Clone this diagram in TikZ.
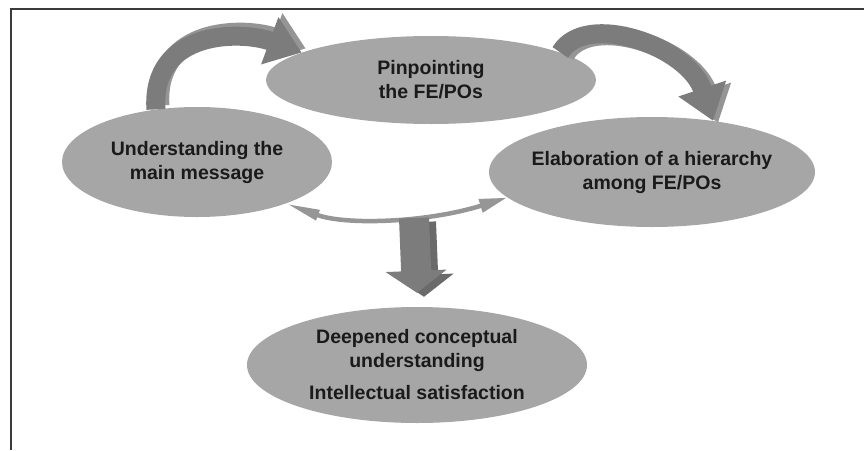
\documentclass[tikz,border=0pt]{standalone}
\usepackage{fontspec}
\setmainfont{Liberation Sans}
\usetikzlibrary{shapes.geometric}
\usetikzlibrary{arrows.meta}
\definecolor{bubblegray}{HTML}{A6A6A6}
\definecolor{arrowgray}{HTML}{7C7C7C}
\definecolor{lightarrow}{HTML}{959595}
\definecolor{darkarrow}{HTML}{6A6A6A}
\definecolor{framegray}{HTML}{3A3A3A}
\definecolor{textgray}{HTML}{1A1A1A}

\begin{document}
\begin{tikzpicture}[x=1pt, y=-1pt,
    font=\bfseries\fontsize{19.5}{24}\selectfont,
    bubble/.style={ellipse, fill=bubblegray, inner xsep=-40pt, inner ysep=-10pt, align=center, text=textgray},
    cyclearrow/.style={arrowgray, line width=19pt, -{Triangle[length=34pt, width=48pt]}},
    cycleshade/.style={lightarrow, line width=19pt, -{Triangle[length=34pt, width=48pt]}},
    loopline/.style={arrowgray!80, line width=4.5pt, {Triangle[length=34pt, width=10pt]}-{Triangle[length=28pt, width=13pt]}},
    downarrow/.style={line width=30pt, -{Triangle[length=22pt, width=60pt]}}]
    \useasboundingbox (0,0) rectangle (864,450);
    % Draw the frame
    \draw[framegray, line width=1.5pt] (864,9) -- (11,9) -- (11,450);
    % Draw the four stages
    \node[bubble, minimum width=330pt, minimum height=88pt] (pin) at (431,80) {Pinpointing\\the FE/POs};
    \node[bubble, minimum width=270pt, minimum height=110pt] (und) at (197,162) {Understanding the\\main message};
    \node[bubble, minimum width=326pt, minimum height=110pt] (ela) at (652,172) {Elaboration of a hierarchy\\among FE/POs};
    \node[bubble, minimum width=340pt, minimum height=116pt] (deep) at (417,365)
        {Deepened conceptual\\understanding\\[8pt]Intellectual satisfaction};
    % Add the cycle arrows
    \draw[cycleshade, transform canvas={xshift=4pt, yshift=4pt}] (und.128) .. controls +(-5,-80) and +(-60,-22) .. (pin.168);
    \draw[cyclearrow] (und.128) .. controls +(-5,-80) and +(-60,-22) .. (pin.168);
    \draw[cycleshade, transform canvas={xshift=5pt, yshift=-2pt}] (pin.12) .. controls +(25,-42) and +(-25,-75) .. (ela.40);
    \draw[cyclearrow] (pin.12) .. controls +(25,-42) and +(-25,-75) .. (ela.40);
    \draw[loopline] (und.-25) .. controls +(60,22) and +(-80,25) .. (ela.190);
    % Add the arrow down to the outcome
    \coordinate (top) at (414,218);
    \draw[downarrow, darkarrow, transform canvas={xshift=7pt, yshift=-4pt}] (top) -- ([yshift=14pt]deep.north);
    \draw[downarrow, arrowgray] (top) -- ([yshift=14pt]deep.north);
\end{tikzpicture}
\end{document}
